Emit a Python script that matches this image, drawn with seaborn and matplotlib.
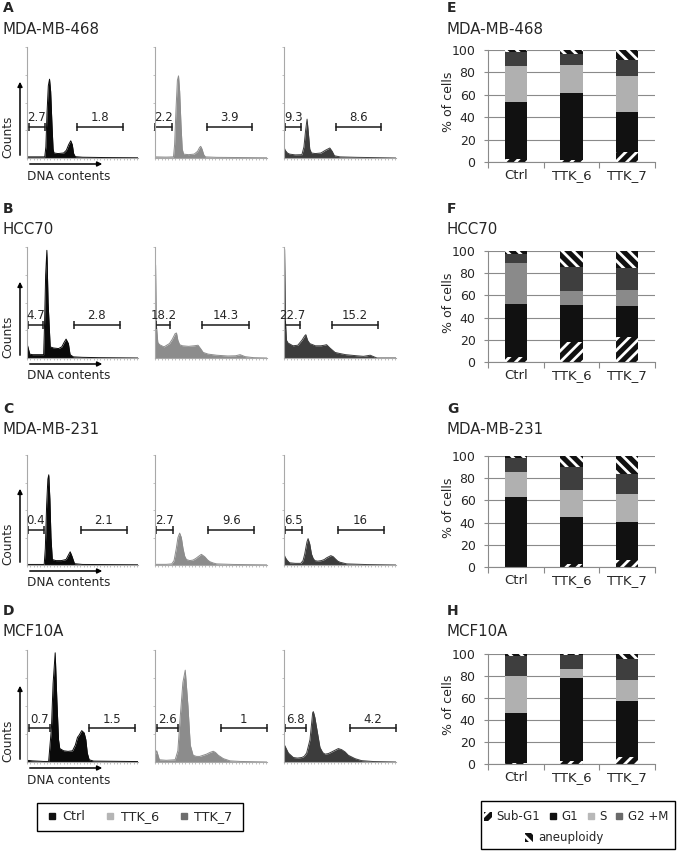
import numpy as np
import pandas as pd
import matplotlib
matplotlib.use("Agg")
import matplotlib.pyplot as plt
from matplotlib.lines import Line2D
from matplotlib.patches import Patch, Rectangle
import seaborn as sns

W, H = 678, 852

conditions = ["Ctrl", "TTK_6", "TTK_7"]
cell_lines = ["MDA-MB-468", "HCC70", "MDA-MB-231", "MCF10A"]
phases = ["Sub-G1", "G1", "S", "G2 +M", "aneuploidy"]

# % of cells per phase (E-H); Sub-G1 / aneuploidy also label the histogram gates
e_subg1 = [2.7, 2.2, 9.3]
e_g1 = [51.3, 59.6, 35.5]
e_s = [31.7, 24.8, 31.9]
e_g2m = [12.5, 9.5, 14.7]
e_aneu = [1.8, 3.9, 8.6]

f_subg1 = [4.7, 18.2, 22.7]
f_g1 = [47.7, 33.3, 27.9]
f_s = [37.1, 12.5, 14.4]
f_g2m = [7.7, 21.7, 19.8]
f_aneu = [2.8, 14.3, 15.2]

g_subg1 = [0.4, 2.7, 6.5]
g_g1 = [62.5, 41.9, 33.6]
g_s = [22.4, 24.9, 25.5]
g_g2m = [12.6, 20.9, 18.4]
g_aneu = [2.1, 9.6, 16]

h_subg1 = [0.7, 2.6, 6.8]
h_g1 = [45.5, 75.6, 50.6]
h_s = [33.8, 8.5, 19.0]
h_g2m = [18.5, 12.3, 19.4]
h_aneu = [1.5, 1, 4.2]

# DNA content histograms (channel 0-100, relative counts)
a_ctrl_x = [0, 10, 16, 17, 18, 19.2, 20.3, 21.3, 22.5, 23.5, 24.3, 28, 33, 35.5, 37.5, 39.4, 40.8, 42, 43.5, 50, 70, 100]
a_ctrl_y = [0.01, 0.01, 0.01, 0.1, 0.4, 0.65, 0.71, 0.6, 0.3, 0.08, 0.045, 0.04, 0.045, 0.07, 0.12, 0.155, 0.12, 0.04, 0.012, 0.007, 0.004, 0.002]
a_t6_x = [0, 10, 16.5, 17.5, 18.8, 20, 21, 22, 23.2, 24.3, 25.5, 30, 35, 38, 39.8, 40.8, 42, 43.5, 45, 55, 100]
a_t6_y = [0.01, 0.008, 0.01, 0.12, 0.45, 0.7, 0.74, 0.6, 0.3, 0.08, 0.035, 0.03, 0.035, 0.06, 0.095, 0.105, 0.08, 0.03, 0.01, 0.006, 0.002]
a_t7_x = [0, 1, 3, 5, 10, 16, 17.8, 19.3, 20.6, 21.8, 23, 24.5, 28, 33, 37, 40.9, 43, 45, 50, 65, 83, 100]
a_t7_y = [0.1, 0.07, 0.045, 0.035, 0.028, 0.03, 0.1, 0.25, 0.35, 0.22, 0.08, 0.045, 0.04, 0.045, 0.07, 0.09, 0.06, 0.02, 0.01, 0.006, 0.003, 0.0]

b_ctrl_x = [0, 0.8, 2.5, 5, 10, 15, 15.8, 16.8, 17.9, 19, 20.9, 23.9, 28.4, 31.3, 33.4, 35.2, 37.3, 38.8, 41.8, 50, 65, 100]
b_ctrl_y = [0.13, 0.1, 0.035, 0.03, 0.03, 0.03, 0.3, 0.75, 0.97, 0.5, 0.1, 0.09, 0.085, 0.1, 0.14, 0.17, 0.13, 0.03, 0.01, 0.006, 0.003, 0.0]
b_t6_x = [0, 0.5, 1.2, 2.5, 4, 8, 12.9, 15.5, 18, 19.2, 20.4, 22, 24.5, 30, 35, 38.4, 41, 43, 44.5, 47.4, 55, 65, 72, 76, 80.5, 88, 100]
b_t6_y = [0.84, 0.84, 0.3, 0.14, 0.12, 0.1, 0.13, 0.17, 0.22, 0.225, 0.16, 0.12, 0.11, 0.105, 0.11, 0.115, 0.08, 0.05, 0.045, 0.035, 0.025, 0.018, 0.02, 0.03, 0.012, 0.003, 0.0]
b_t7_x = [0, 0.5, 1.2, 2.2, 3.6, 8, 12.3, 16, 18.5, 19.5, 21, 23, 28, 33, 36, 38, 41, 45.6, 50, 55, 65, 71, 77, 80, 83, 100]
b_t7_y = [0.98, 0.98, 0.35, 0.16, 0.135, 0.11, 0.115, 0.16, 0.2, 0.21, 0.16, 0.13, 0.11, 0.11, 0.115, 0.12, 0.09, 0.05, 0.04, 0.03, 0.02, 0.015, 0.025, 0.012, 0.0, 0.0]

c_ctrl_x = [0, 10, 15.5, 16.5, 17.7, 18.8, 19.6, 20.6, 21.6, 22.8, 26, 31, 35.2, 37.3, 38.9, 40.5, 42.8, 50, 100]
c_ctrl_y = [0.005, 0.005, 0.005, 0.15, 0.55, 0.78, 0.82, 0.6, 0.25, 0.05, 0.04, 0.04, 0.05, 0.09, 0.12, 0.08, 0.012, 0.005, 0.002]
c_t6_x = [0, 10, 15, 17, 19, 20.5, 22, 23.5, 25, 26.5, 28, 31, 34, 36.5, 38.4, 41.4, 44.4, 47, 49, 52, 55, 70, 100]
c_t6_y = [0.006, 0.006, 0.01, 0.04, 0.15, 0.25, 0.29, 0.25, 0.15, 0.08, 0.05, 0.04, 0.045, 0.06, 0.075, 0.097, 0.075, 0.045, 0.03, 0.018, 0.01, 0.005, 0.001]
c_t7_x = [0, 1, 3, 5, 10, 15, 17, 18.5, 19.4, 20.5, 21.5, 23, 24.5, 26, 27.5, 30, 33.4, 36, 38, 41.8, 44, 45.4, 48, 50, 56, 74, 100]
c_t7_y = [0.1, 0.07, 0.04, 0.02, 0.015, 0.015, 0.04, 0.1, 0.15, 0.21, 0.24, 0.19, 0.1, 0.06, 0.04, 0.035, 0.04, 0.05, 0.065, 0.085, 0.075, 0.06, 0.035, 0.025, 0.01, 0.004, 0.0]

d_ctrl_x = [0, 5, 15, 19.5, 20.3, 22, 23.5, 25.4, 26.9, 28.4, 29.5, 33, 37, 41, 43.5, 45.5, 47, 49.3, 51.5, 53, 54.3, 56, 60, 100]
d_ctrl_y = [0.015, 0.01, 0.005, 0.005, 0.1, 0.3, 0.7, 0.975, 0.55, 0.2, 0.12, 0.1, 0.095, 0.1, 0.15, 0.22, 0.24, 0.28, 0.26, 0.2, 0.08, 0.02, 0.008, 0.004]
d_t6_x = [0, 1.5, 3.9, 10, 18, 20.4, 22.5, 24.9, 27, 29.4, 31.5, 34, 37, 40, 43, 46, 49, 52, 54, 56.5, 61, 67, 76, 100]
d_t6_y = [0.06, 0.1, 0.02, 0.015, 0.02, 0.1, 0.4, 0.71, 0.82, 0.5, 0.15, 0.06, 0.05, 0.05, 0.06, 0.07, 0.085, 0.096, 0.085, 0.06, 0.03, 0.01, 0.005, 0.0]
d_t7_x = [0, 0.5, 3.9, 8.3, 12, 15.8, 18, 20.2, 23.2, 25.6, 26.2, 27.5, 29.2, 32.1, 34.5, 36.6, 39.5, 42.6, 45.5, 48.5, 51.5, 54.5, 57.4, 63.4, 69.3, 80, 100]
d_t7_y = [0.15, 0.15, 0.08, 0.04, 0.035, 0.04, 0.05, 0.08, 0.2, 0.44, 0.45, 0.4, 0.3, 0.13, 0.085, 0.07, 0.075, 0.09, 0.105, 0.12, 0.11, 0.09, 0.06, 0.03, 0.012, 0.004, 0.0]

# gates (channel ranges) for sub-G1 and aneuploidy
a_gates = [((1.5, 15.8), (45.4, 86.6)), ((0.3, 15.3), (46.2, 87)), ((1.2, 15.5), (46, 87))]
b_gates = [((0.9, 14.3), (42.4, 83.6)), ((1, 13.8), (42.4, 83.8)), ((0.6, 14), (43, 84))]
c_gates = [((0.6, 15.6), (48.2, 89.8)), ((0.9, 15.9), (47.4, 88.8)), ((1.2, 16.1), (47.8, 89))]
d_gates = [((2, 20.3), (55.8, 97)), ((1.5, 20.4), (58.5, 100)), ((0.9, 19.7), (59, 100))]

hist_colors = ["#0a0a0a", "#8c8c8c", "#3c3c3c"]


def fx(x):
    return x / W


def fy(y):
    return 1 - y / H


def box(l, t, r, b):
    return [fx(l), fy(b), (r - l) / W, (b - t) / H]


sns.set_style("white")
plt.rcParams["font.family"] = ["DejaVu Sans"]
plt.rcParams["hatch.linewidth"] = 2.0

fig = plt.figure(figsize=(W / 100, H / 100), dpi=100)

hist_cols = [(27, 138), (155, 267), (284, 396)]
rows = [
    dict(letter="A", bar_letter="E", top=47, bottom=158, bar_top=50, bar_bottom=162, title_y=29,
         hists=[(a_ctrl_x, a_ctrl_y), (a_t6_x, a_t6_y), (a_t7_x, a_t7_y)], gates=a_gates, gate_y=0.28,
         bars=(e_subg1, e_g1, e_s, e_g2m, e_aneu), s_color="#b0b0b0"),
    dict(letter="B", bar_letter="F", top=247, bottom=358, bar_top=251, bar_bottom=362, title_y=230,
         hists=[(b_ctrl_x, b_ctrl_y), (b_t6_x, b_t6_y), (b_t7_x, b_t7_y)], gates=b_gates, gate_y=0.30,
         bars=(f_subg1, f_g1, f_s, f_g2m, f_aneu), s_color="#8a8a8a"),
    dict(letter="C", bar_letter="G", top=455, bottom=565, bar_top=456, bar_bottom=567, title_y=430,
         hists=[(c_ctrl_x, c_ctrl_y), (c_t6_x, c_t6_y), (c_t7_x, c_t7_y)], gates=c_gates, gate_y=0.32,
         bars=(g_subg1, g_g1, g_s, g_g2m, g_aneu), s_color="#b0b0b0"),
    dict(letter="D", bar_letter="H", top=650, bottom=762, bar_top=654, bar_bottom=764, title_y=632,
         hists=[(d_ctrl_x, d_ctrl_y), (d_t6_x, d_t6_y), (d_t7_x, d_t7_y)], gates=d_gates, gate_y=0.30,
         bars=(h_subg1, h_g1, h_s, h_g2m, h_aneu), s_color="#b0b0b0"),
]

spine_gray = "#a8a8a8"
grid_gray = "#8a8a8a"

for i, row in enumerate(rows):
    subg1_vals = row["bars"][0]
    aneu_vals = row["bars"][4]
    # panel letters and cell line titles
    for x0, letter in [(3, row["letter"]), (447, row["bar_letter"])]:
        fig.text(fx(x0), fy(row["title_y"] - 21), letter, fontsize=10, fontweight="bold",
                 ha="left", va="center")
        fig.text(fx(x0), fy(row["title_y"]), cell_lines[i], fontsize=10.8, ha="left", va="center")

    # histograms
    for j, ((l, r), (hx, hy)) in enumerate(zip(hist_cols, row["hists"])):
        ax = fig.add_axes(box(l, row["top"], r, row["bottom"]))
        sns.lineplot(x=hx, y=hy, ax=ax, color=hist_colors[j], lw=0.7, estimator=None, sort=False)
        ax.fill_between(hx, hy, 0, color=hist_colors[j], lw=0)
        ax.set_xlim(0, 100)
        ax.set_ylim(0, 1)
        for side in ["top", "right"]:
            ax.spines[side].set_visible(False)
        for side in ["left", "bottom"]:
            ax.spines[side].set_color(spine_gray)
            ax.spines[side].set_linewidth(0.8)
        ax.set_xticks(np.arange(0, 101, 3))
        ax.set_yticks([0.25, 0.5, 0.75, 1.0])
        ax.tick_params(length=1.5, width=0.5, color=spine_gray, labelbottom=False, labelleft=False,
                       bottom=True, left=True, direction="out")
        ax.set_xlabel("")
        ax.set_ylabel("")
        gy = row["gate_y"]
        (l0, l1), (r0, r1) = row["gates"][j]
        for (g0, g1), val in [((l0, l1), subg1_vals[j]), ((r0, r1), aneu_vals[j])]:
            ax.plot([g0, g1], [gy, gy], color="#1a1a1a", lw=1.1, marker="|", markersize=6,
                    mew=1.1, clip_on=False)
            ax.text((g0 + g1) / 2, gy + 0.025, f"{val:g}", ha="center", va="bottom", fontsize=8.5,
                    clip_on=False)

    # axis arrows on the first histogram
    b = row["bottom"]
    fig.add_artist(matplotlib.patches.FancyArrowPatch(
        (fx(20), fy(b)), (fx(20), fy(b - 79)), transform=fig.transFigure,
        arrowstyle="-|>", mutation_scale=7, lw=1.1, color="black"))
    fig.add_artist(matplotlib.patches.FancyArrowPatch(
        (fx(27), fy(b + 6)), (fx(105), fy(b + 6)), transform=fig.transFigure,
        arrowstyle="-|>", mutation_scale=7, lw=1.1, color="black"))
    fig.text(fx(8), fy(b - 21), "Counts", rotation=90, ha="center", va="center", fontsize=8.7)
    fig.text(fx(27), fy(b + 18), "DNA contents", ha="left", va="center", fontsize=8.7)

    # stacked bar chart
    ax = fig.add_axes(box(488, row["bar_top"], 655, row["bar_bottom"]))
    df = pd.DataFrame(dict(zip(phases, row["bars"])))
    df.insert(0, "condition", conditions)
    cum = df[phases].cumsum(axis=1)
    layers = [("aneuploidy", "#111111", "\\\\\\"), ("G2 +M", "#3e3e3e", None),
              ("S", row["s_color"], None), ("G1", "#111111", None), ("Sub-G1", "#111111", "///")]
    for phase, color, hatch in layers:
        sns.barplot(x=df["condition"], y=cum[phase], order=conditions, color=color, width=0.4,
                    saturation=1, errorbar=None, hatch=hatch, edgecolor="white", linewidth=0, ax=ax)
    ax.set_ylim(0, 100)
    ax.set_xlim(-0.5, 2.5)
    ax.set_yticks([0, 20, 40, 60, 80, 100])
    ax.yaxis.grid(True, color=grid_gray, lw=0.8)
    ax.xaxis.grid(False)
    ax.set_axisbelow(True)
    for side in ["top", "right"]:
        ax.spines[side].set_visible(False)
    for side in ["left", "bottom"]:
        ax.spines[side].set_color(grid_gray)
        ax.spines[side].set_linewidth(0.8)
    ax.set_xticks([-0.5, 0.5, 1.5, 2.5], minor=True)
    ax.tick_params(axis="x", which="major", length=0, pad=5, labelsize=9.5, bottom=True)
    ax.tick_params(axis="x", which="minor", length=4, width=0.8, color=grid_gray, bottom=True)
    ax.tick_params(axis="y", length=3, width=0.8, color=grid_gray, pad=6, labelsize=9, left=True)
    ax.set_xlabel("")
    ax.set_ylabel("")
    mid = (row["bar_top"] + row["bar_bottom"]) / 2
    fig.text(fx(449), fy(mid - 4), "% of cells", rotation=90, ha="center", va="center", fontsize=9)

# legend: histogram conditions
fig.add_artist(Rectangle((fx(37), fy(831)), 206 / W, 28 / H, transform=fig.transFigure,
                         fill=False, ec="black", lw=1))
cond_handles = [Line2D([], [], ls="", marker="s", markersize=5, color=c)
                for c in ["#111111", "#b5b5b5", "#6e6e6e"]]
fig.legend(cond_handles, conditions, loc="center", bbox_to_anchor=(fx(140), fy(817)), ncol=3,
           frameon=False, fontsize=9.2, handlelength=0.7, handletextpad=0.45, columnspacing=1.6,
           borderpad=0, borderaxespad=0)

# legend: cell cycle phases
fig.add_artist(Rectangle((fx(481), fy(849)), 194 / W, 48 / H, transform=fig.transFigure,
                         fill=False, ec="black", lw=1))
phase_handles = [Patch(facecolor="#111111", edgecolor="white", hatch="///", lw=0),
                 Line2D([], [], ls="", marker="s", markersize=5, color="#111111"),
                 Line2D([], [], ls="", marker="s", markersize=5, color="#b8b8b8"),
                 Line2D([], [], ls="", marker="s", markersize=5, color="#6a6a6a")]
fig.legend(phase_handles, phases[:4], loc="center", bbox_to_anchor=(fx(576), fy(817)), ncol=4,
           frameon=False, fontsize=8.5, handlelength=0.7, handleheight=0.7, handletextpad=0.35,
           columnspacing=0.75, borderpad=0, borderaxespad=0)
fig.legend([Patch(facecolor="#111111", edgecolor="white", hatch="\\\\\\", lw=0)], [phases[4]],
           loc="center", bbox_to_anchor=(fx(564), fy(838)), frameon=False, fontsize=8.5,
           handlelength=0.7, handleheight=0.7, handletextpad=0.4, borderpad=0, borderaxespad=0)

fig.savefig("out.png", dpi=100)
